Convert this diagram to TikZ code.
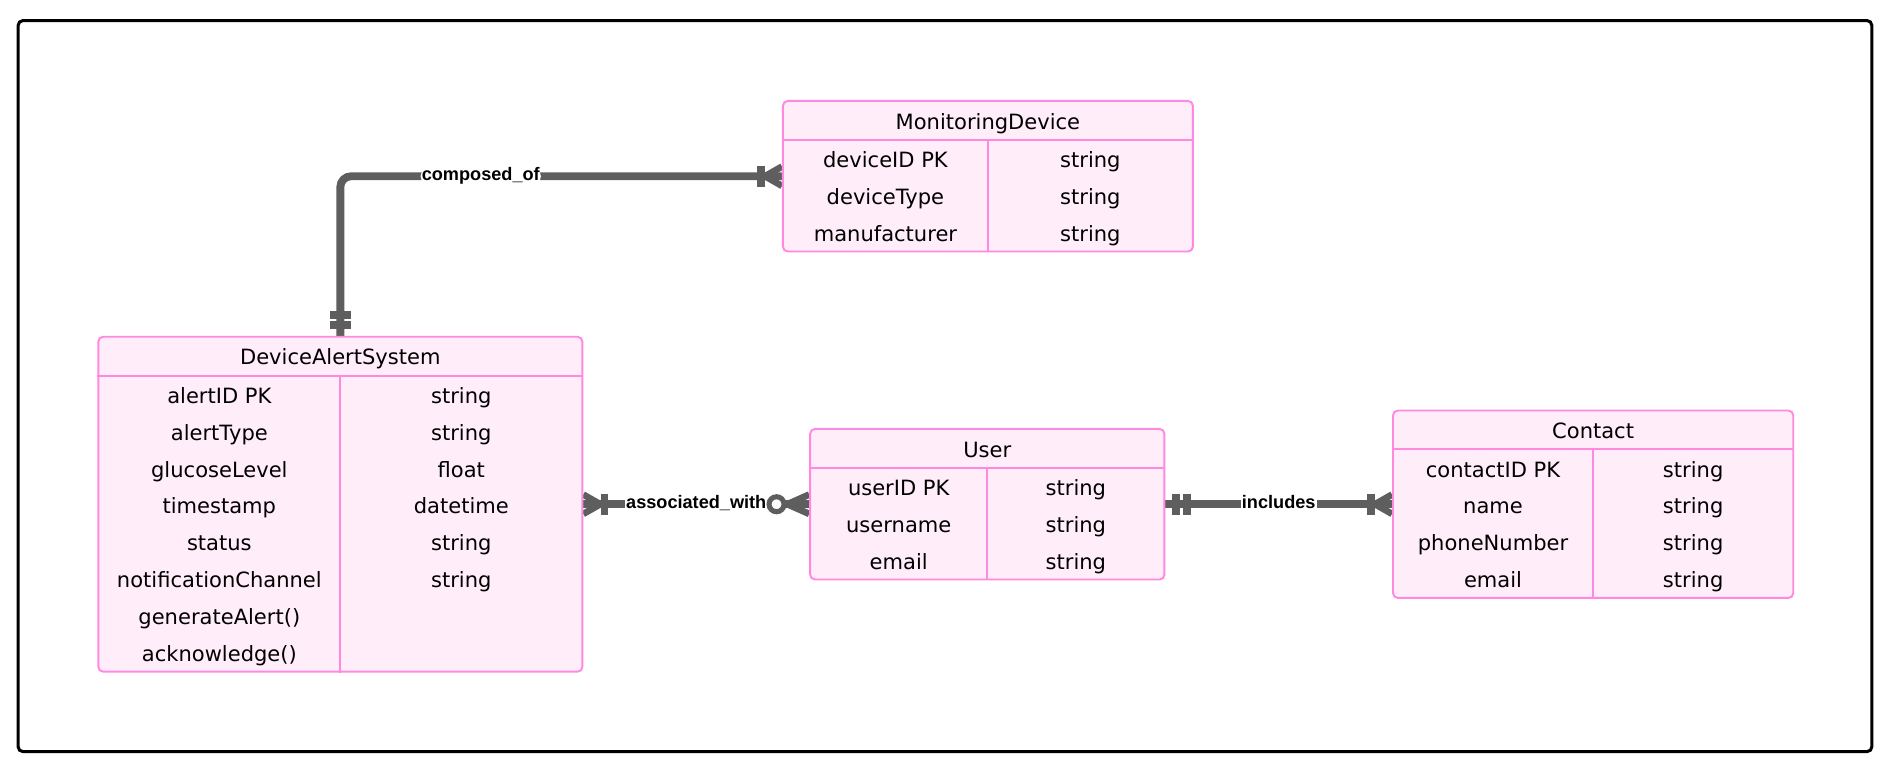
\documentclass[tikz,border=0pt]{standalone}
\usepackage{fontspec}
\setmainfont{DejaVu Sans}
\newfontfamily\lblfamily{Liberation Sans}
\usetikzlibrary{backgrounds}
\definecolor{erpink}{HTML}{FF88E0}
\definecolor{erfill}{HTML}{FFEEF9}
\definecolor{relgray}{HTML}{5E5E5E}
\tikzstyle{entity} = [draw=erpink, fill=erfill, line width=1.6pt, rounded corners=4pt, inner sep=0pt]
\tikzstyle{sep} = [draw=erpink, line width=1.6pt]
\tikzstyle{attr} = [anchor=base, inner sep=0pt, font=\fontsize{17.4}{20}\selectfont]
\tikzstyle{rel} = [draw=relgray, line width=6.5pt]
\tikzstyle{bar} = [draw=relgray, line width=6.5pt]
\tikzstyle{crow} = [draw=relgray, line width=5.5pt, line join=round]
\tikzstyle{lbl} = [fill=white, inner sep=1pt, text height=11pt, text depth=3.8pt, font=\lblfamily\bfseries\fontsize{15}{18}\selectfont]

\begin{document}
\begin{tikzpicture}[x=1pt, y=-1pt]

\useasboundingbox (0,0) rectangle (1568,639.3);
\draw[line width=2.5pt, rounded corners=4pt] (15,17) rectangle (1548,621.6);

% entity boxes
\node[entity, minimum width=339pt, minimum height=124.5pt] (md) at (817,145.75) {};
\node[entity, minimum width=400.3pt, minimum height=277pt] (das) at (281.45,417) {};
\node[entity, minimum width=293pt, minimum height=124.5pt] (user) at (816.5,417) {};
\node[entity, minimum width=331pt, minimum height=155pt] (contact) at (1317.5,417) {};

\draw[sep] ([yshift=-33pt]md.north west) -- ([yshift=-33pt]md.north east);
\draw[sep] ([yshift=-33pt]md.north) -- (md.south);
\draw[sep] ([yshift=-33pt]das.north west) -- ([yshift=-33pt]das.north east);
\draw[sep] ([yshift=-33pt]das.north) -- (das.south);
\draw[sep] ([yshift=-33pt]user.north west) -- ([yshift=-33pt]user.north east);
\draw[sep] ([yshift=-33pt]user.north) -- (user.south);
\draw[sep] ([yshift=-33pt]contact.north west) -- ([yshift=-33pt]contact.north east);
\draw[sep] ([yshift=-33pt]contact.north) -- (contact.south);

% MonitoringDevice
\node[attr] (md-name) at (817,106.8) {MonitoringDevice};
\node[attr] (md-k1) at (732.25,138.55) {deviceID PK};
\node[attr] (md-t1) at (901.75,138.55) {string};
\node[attr] (md-k2) at (732.25,169.05) {deviceType};
\node[attr] (md-t2) at (901.75,169.05) {string};
\node[attr] (md-k3) at (732.25,199.55) {manufacturer};
\node[attr] (md-t3) at (901.75,199.55) {string};

% DeviceAlertSystem
\node[attr] (das-name) at (281.45,301.8) {DeviceAlertSystem};
\node[attr] (das-k1) at (181.4,333.55) {alertID PK};
\node[attr] (das-t1) at (381.5,333.55) {string};
\node[attr] (das-k2) at (181.4,364.05) {alertType};
\node[attr] (das-t2) at (381.5,364.05) {string};
\node[attr] (das-k3) at (181.4,394.55) {glucoseLevel};
\node[attr] (das-t3) at (381.5,394.55) {float};
\node[attr] (das-k4) at (181.4,425.05) {timestamp};
\node[attr] (das-t4) at (381.5,425.05) {datetime};
\node[attr] (das-k5) at (181.4,455.55) {status};
\node[attr] (das-t5) at (381.5,455.55) {string};
\node[attr] (das-k6) at (181.4,486.05) {notificationChannel};
\node[attr] (das-t6) at (381.5,486.05) {string};
\node[attr] (das-k7) at (181.4,516.55) {generateAlert()};
\node[attr] (das-k8) at (181.4,547.05) {acknowledge()};

% User
\node[attr] (user-name) at (816.5,378.05) {User};
\node[attr] (user-k1) at (743.25,409.8) {userID PK};
\node[attr] (user-t1) at (889.75,409.8) {string};
\node[attr] (user-k2) at (743.25,440.3) {username};
\node[attr] (user-t2) at (889.75,440.3) {string};
\node[attr] (user-k3) at (743.25,470.8) {email};
\node[attr] (user-t3) at (889.75,470.8) {string};

% Contact
\node[attr] (contact-name) at (1317.5,362.8) {Contact};
\node[attr] (contact-k1) at (1234.75,394.55) {contactID PK};
\node[attr] (contact-t1) at (1400.25,394.55) {string};
\node[attr] (contact-k2) at (1234.75,425.05) {name};
\node[attr] (contact-t2) at (1400.25,425.05) {string};
\node[attr] (contact-k3) at (1234.75,455.55) {phoneNumber};
\node[attr] (contact-t3) at (1400.25,455.55) {string};
\node[attr] (contact-k4) at (1234.75,486.05) {email};
\node[attr] (contact-t4) at (1400.25,486.05) {string};

\begin{scope}[on background layer]
% relationships
\draw[rel, rounded corners=9pt] (das.north) |- node[lbl, pos=0.659] {composed\_of} (md.west);
\draw[rel] (das.east) -- node[lbl] {associated\_with} (user.west);
\draw[rel] (user.east) -- node[lbl] {includes} (contact.west);

% end marks
\draw[bar] ([xshift=-8.7pt,yshift=9pt]das.north) -- ([xshift=8.7pt,yshift=9pt]das.north);
\draw[bar] ([xshift=-8.7pt,yshift=17.5pt]das.north) -- ([xshift=8.7pt,yshift=17.5pt]das.north);
\draw[crow] ([yshift=8pt]md.west) -- ([xshift=-14pt]md.west) -- ([yshift=-8pt]md.west);
\draw[bar] ([xshift=-17.5pt,yshift=8.7pt]md.west) -- ([xshift=-17.5pt,yshift=-8.7pt]md.west);

\draw[crow] ([yshift=8pt]das.east) -- ([xshift=14pt]das.east) -- ([yshift=-8pt]das.east);
\draw[bar] ([xshift=17.5pt,yshift=8.7pt]das.east) -- ([xshift=17.5pt,yshift=-8.7pt]das.east);
\draw[crow] ([yshift=8pt]user.west) -- ([xshift=-18pt]user.west) -- ([yshift=-8pt]user.west);
\draw[draw=relgray, fill=white, line width=4.2pt] ([xshift=-27pt]user.west) circle (6.2pt);

\draw[bar] ([xshift=9pt,yshift=8.7pt]user.east) -- ([xshift=9pt,yshift=-8.7pt]user.east);
\draw[bar] ([xshift=17.5pt,yshift=8.7pt]user.east) -- ([xshift=17.5pt,yshift=-8.7pt]user.east);
\draw[crow] ([yshift=8pt]contact.west) -- ([xshift=-14pt]contact.west) -- ([yshift=-8pt]contact.west);
\draw[bar] ([xshift=-17.5pt,yshift=8.7pt]contact.west) -- ([xshift=-17.5pt,yshift=-8.7pt]contact.west);
\end{scope}

\end{tikzpicture}
\end{document}
